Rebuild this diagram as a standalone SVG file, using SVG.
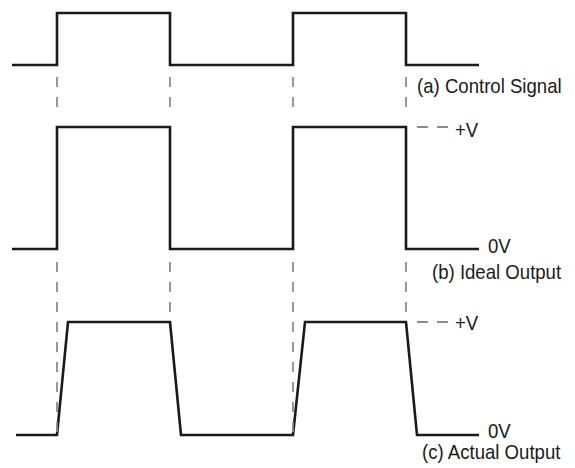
<svg xmlns="http://www.w3.org/2000/svg" width="575" height="468" viewBox="0 0 575 468">
  <style>
    .trace { fill: none; stroke: #1a1a1a; stroke-width: 2.6; stroke-linejoin: miter; }
    .guide { fill: none; stroke: #8c8c8c; stroke-width: 1.8; stroke-dasharray: 10 10; }
    .level { fill: none; stroke: #8c8c8c; stroke-width: 1.8; stroke-dasharray: 11 9; }
    .lbl { font-family: "Liberation Sans", Arial, sans-serif; font-size: 18.6px; fill: #1a1a1a; }
  </style>
  <rect width="575" height="468" fill="#ffffff"/>

  <!-- (a) control signal -->
  <g id="control-signal">
    <path class="trace" d="M12,65 H57 V13 H170 V65 H293 V13 H406 V65 H479"/>
    <text class="lbl" transform="translate(417,93) scale(1,1.13)">(a) Control Signal</text>
  </g>

  <!-- (b) ideal output -->
  <g id="ideal-output">
    <path class="trace" d="M12,249 H57 V127 H170 V249 H293 V127 H406 V249 H479"/>
    <text class="lbl" transform="translate(455,137) scale(1,1.13)">+V</text>
    <text class="lbl" transform="translate(488,253) scale(1,1.13)">0V</text>
    <text class="lbl" transform="translate(432,279) scale(1,1.13)">(b) Ideal Output</text>
  </g>

  <!-- (c) actual output with finite rise/fall times -->
  <g id="actual-output">
    <path class="trace" d="M16,435 H57 L68,322 H170 L181,435 H293 L305,322 H406 L417,435 H479"/>
    <text class="lbl" transform="translate(455,330) scale(1,1.13)">+V</text>
    <text class="lbl" transform="translate(488,438) scale(1,1.13)">0V</text>
    <text class="lbl" transform="translate(422,459) scale(1,1.13)">(c) Actual Output</text>
  </g>

  <!-- dashed alignment guides and level markers -->
  <g id="connectors">
    <line class="guide" x1="57" y1="77" x2="57" y2="108"/>
    <line class="guide" x1="170" y1="77" x2="170" y2="108"/>
    <line class="guide" x1="293" y1="77" x2="293" y2="108"/>
    <line class="guide" x1="406" y1="77" x2="406" y2="108"/>

    <line class="guide" x1="57" y1="262" x2="57" y2="433"/>
    <line class="guide" x1="170" y1="262" x2="170" y2="314"/>
    <line class="guide" x1="293" y1="262" x2="293" y2="433"/>
    <line class="guide" x1="406" y1="262" x2="406" y2="314"/>

    <line class="level" x1="417" y1="127" x2="448" y2="127"/>
    <line class="level" x1="417" y1="322" x2="448" y2="322"/>
  </g>
</svg>
